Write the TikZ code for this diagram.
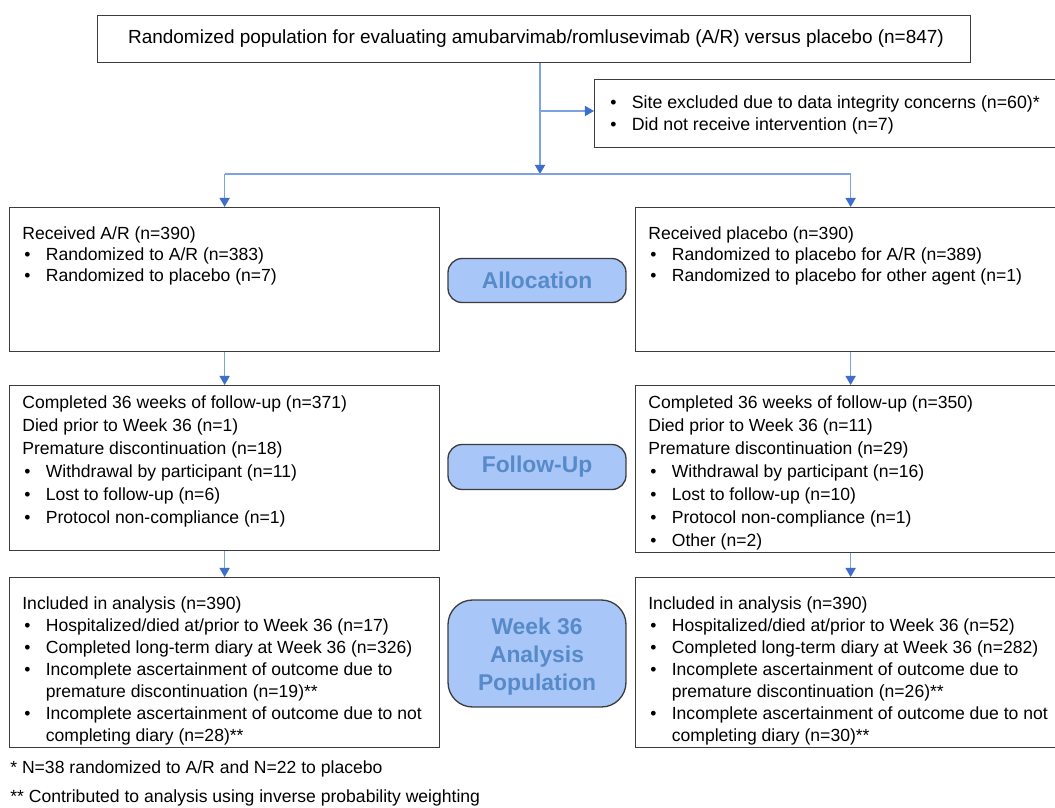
\documentclass[tikz,border=0pt]{standalone}
\usepackage{fontspec}
\setmainfont{Liberation Sans}
\usetikzlibrary{arrows.meta}
\definecolor{linecol}{RGB}{125,162,228}
\definecolor{tipcol}{RGB}{62,110,205}
\definecolor{boxcol}{RGB}{60,60,60}
\definecolor{labfill}{RGB}{168,198,248}
\definecolor{labtext}{RGB}{86,138,200}
\newcommand\bu{\makebox[0.47cm][l]{\hspace{0.04cm}•}}
\newcommand\ind{\hspace*{0.47cm}}
\tikzset{
  box/.style={draw=boxcol, line width=0.75pt, fill=white, rectangle, inner sep=0pt, anchor=north west},
  txt/.style={anchor=north west, inner sep=0pt, align=left, font=\fontsize{10}{12.2}\selectfont},
  lab/.style={draw=boxcol, line width=0.75pt, fill=labfill, text=labtext, align=center,
    font=\fontsize{13}{16}\selectfont\bfseries, inner sep=0pt},
  conn/.style={draw=linecol, line width=0.8pt},
  arr/.style={conn, -{Triangle[width=5.8pt,length=5.2pt,color=tipcol]}}
}
\begin{document}
\begin{tikzpicture}[x=0.02cm,y=-0.02cm]
\clip (0,0) rectangle (1055,808);
\fill[white] (0,0) rectangle (1055,808);
% boxes
\node[box, minimum width=17.46cm, minimum height=0.94cm] (top) at (97,15) {};
\node[txt, anchor=center, font=\fontsize{10.8}{13}\selectfont] (toptxt) at (536,38.5) {Randomized population for evaluating amubarvimab/romlusevimab (A/R) versus placebo (n=847)};
\node[box, minimum width=9.42cm, minimum height=1.36cm] (excl) at (594,79) {};
\node[txt, font=\fontsize{10.1}{12.8}\selectfont] (excltxt) at (608,95) {\bu Site excluded due to data integrity concerns (n=60)*\\ \bu Did not receive intervention (n=7)};

\node[box, minimum width=8.6cm, minimum height=2.88cm] (L1) at (9,207) {};
\node[box, minimum width=8.6cm, minimum height=2.88cm] (R1) at (635,207) {};
\node[box, minimum width=8.6cm, minimum height=3.3cm] (L2) at (9,385) {};
\node[box, minimum width=8.6cm, minimum height=3.34cm] (R2) at (635,385) {};
\node[box, minimum width=8.6cm, minimum height=3.4cm] (L3) at (9,577) {};
\node[box, minimum width=8.6cm, minimum height=3.4cm] (R3) at (635,577) {};

\node[txt] (L1t) at (22,226) {Received A/R (n=390)\\ \bu Randomized to A/R (n=383)\\ \bu Randomized to placebo (n=7)};
\node[txt] (R1t) at (648,226) {Received placebo (n=390)\\ \bu Randomized to placebo for A/R (n=389)\\ \bu Randomized to placebo for other agent (n=1)};
\node[txt, font=\fontsize{10}{13.1}\selectfont] (L2t) at (22,395) {Completed 36 weeks of follow-up (n=371)\\ Died prior to Week 36 (n=1)\\ Premature discontinuation (n=18)\\ \bu Withdrawal by participant (n=11)\\ \bu Lost to follow-up (n=6)\\ \bu Protocol non-compliance (n=1)};
\node[txt, font=\fontsize{10}{13.1}\selectfont] (R2t) at (648,395) {Completed 36 weeks of follow-up (n=350)\\ Died prior to Week 36 (n=11)\\ Premature discontinuation (n=29)\\ \bu Withdrawal by participant (n=16)\\ \bu Lost to follow-up (n=10)\\ \bu Protocol non-compliance (n=1)\\ \bu Other (n=2)};
\node[txt, font=\fontsize{10}{12.6}\selectfont] (L3t) at (22,596) {Included in analysis (n=390)\\ \bu Hospitalized/died at/prior to Week 36 (n=17)\\ \bu Completed long-term diary at Week 36 (n=326)\\ \bu Incomplete ascertainment of outcome due to\\ \ind premature discontinuation (n=19)**\\ \bu Incomplete ascertainment of outcome due to not\\ \ind completing diary (n=28)**};
\node[txt, font=\fontsize{10}{12.6}\selectfont] (R3t) at (648,596) {Included in analysis (n=390)\\ \bu Hospitalized/died at/prior to Week 36 (n=52)\\ \bu Completed long-term diary at Week 36 (n=282)\\ \bu Incomplete ascertainment of outcome due to\\ \ind premature discontinuation (n=26)**\\ \bu Incomplete ascertainment of outcome due to not\\ \ind completing diary (n=30)**};

% stage labels
\node[lab, rounded corners=8pt, minimum width=3.56cm, minimum height=0.88cm] (alloc) at (537,280.5) {Allocation};
\node[lab, rounded corners=8pt, minimum width=3.56cm, minimum height=0.9cm] (fup) at (537,467) {Follow-Up};
\node[lab, rounded corners=14pt, minimum width=3.56cm, minimum height=2.14cm] (wk) at (537,653.5) {};
\node[lab, draw=none, fill=none] (wkt) at (537,656.5) {Week 36\\ Analysis\\ Population};

% footnotes
\node[txt, anchor=west] (fn1) at (10,768.5) {* N=38 randomized to A/R and N=22 to placebo};
\node[txt, anchor=west] (fn2) at (10,797.5) {** Contributed to analysis using inverse probability weighting};

% connectors
\coordinate (j1) at (540,111);
\coordinate (j2) at (540,174);
\draw[conn] (top.south -| j1) -- (j1);
\draw[arr] (j1) -- (j1 -| excl.west);
\draw[arr] (j1) -- (j2);
\draw[conn] (L1.north |- j2) -- (R1.north |- j2);
\draw[arr] (L1.north |- j2) -- (L1.north);
\draw[arr] (R1.north |- j2) -- (R1.north);
\draw[arr] (L1.south) -- (L2.north);
\draw[arr] (R1.south) -- (R2.north);
\draw[arr] (L2.south) -- (L3.north);
\draw[arr] (R2.south) -- (R3.north);
\end{tikzpicture}
\end{document}
